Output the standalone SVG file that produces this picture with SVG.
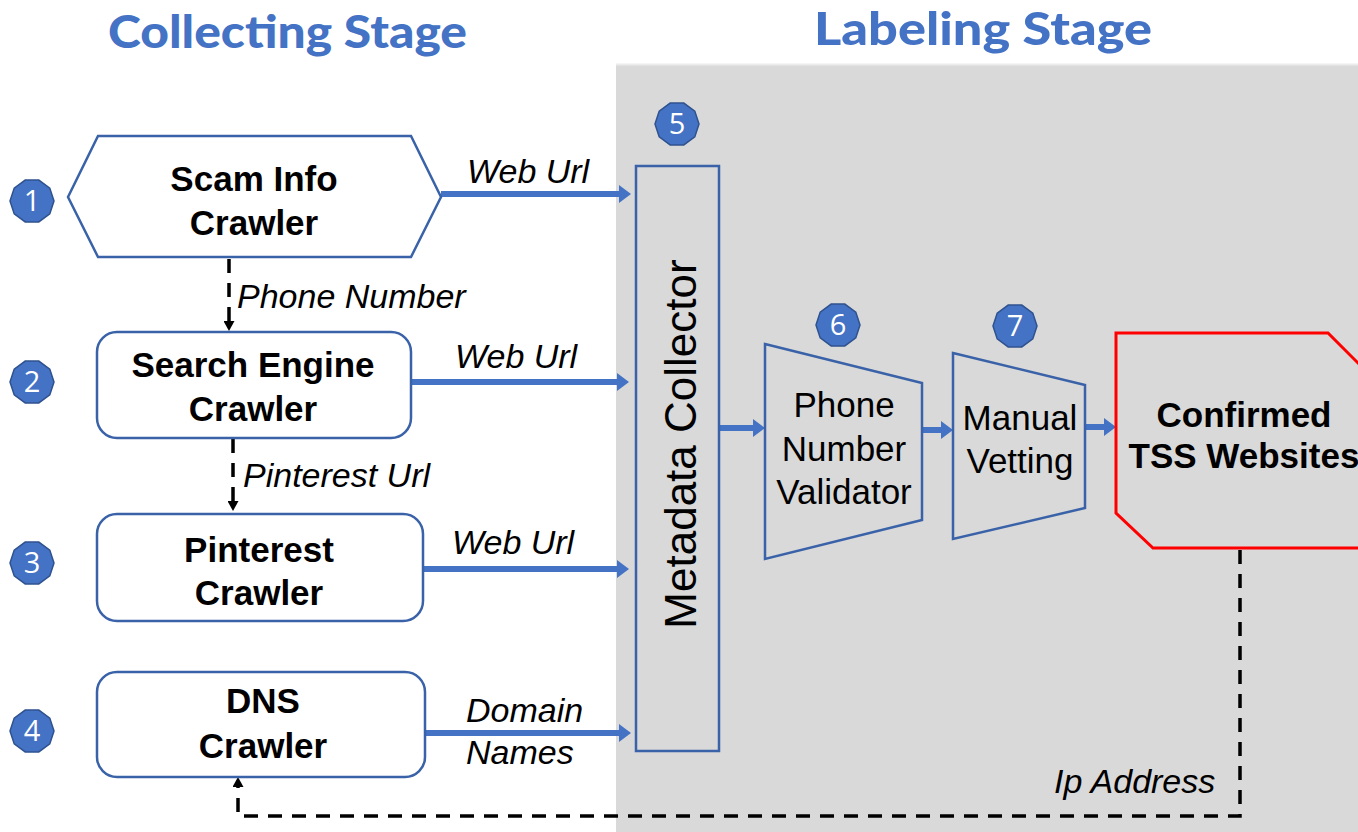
<svg xmlns="http://www.w3.org/2000/svg" xmlns:xlink="http://www.w3.org/1999/xlink" width="1358" height="832" viewBox="0 0 1358 832">
<style>
.head{font-family:Lato,"Liberation Sans",sans-serif;font-weight:900;font-size:45px;fill:#4472c4}
.node{fill:#ffffff;stroke:#3a62a8;stroke-width:2.5}
.lab{fill:#d9d9d9;stroke:#3a62a8;stroke-width:2.5}
.bt{font-family:"Liberation Sans",Arial,sans-serif;font-weight:bold;font-size:35px;fill:#000;text-anchor:middle}
.nt{font-family:"Liberation Sans",Arial,sans-serif;font-size:35px;fill:#000;text-anchor:middle}
.el{font-family:"Liberation Sans",Arial,sans-serif;font-style:italic;font-size:34px;fill:#000}
.badge{fill:#4472c4;stroke:#2f528f;stroke-width:1.5}
.bn{font-family:"Open Sans","Liberation Sans",sans-serif;font-size:29px;fill:#fff;text-anchor:middle}
.blue{stroke:#4472c4;stroke-width:6;fill:none;marker-end:url(#ba)}
.dash{stroke:#000;stroke-width:3.5;fill:none;stroke-dasharray:14 10;marker-end:url(#ka)}
</style>
<defs>
<marker id="ba" markerUnits="userSpaceOnUse" markerWidth="13" markerHeight="18" refX="0" refY="9" orient="auto">
<path d="M0,0 L12,9 L0,18 z" fill="#4472c4"/>
</marker>
<marker id="ka" markerUnits="userSpaceOnUse" markerWidth="11" markerHeight="11" refX="0" refY="5.5" orient="auto">
<path d="M0,0 L10,5.5 L0,11 z" fill="#000"/>
</marker>
<path id="dec" d="M22,0 L17.8,12.9 L6.8,20.9 L-6.8,20.9 L-17.8,12.9 L-22,0 L-17.8,-12.9 L-6.8,-20.9 L6.8,-20.9 L17.8,-12.9 Z"/>
</defs>

<rect x="0" y="0" width="1358" height="832" fill="#ffffff"/>
<rect id="labeling-area" x="616" y="65" width="742" height="767" fill="#d9d9d9"/>
<line x1="616" y1="64.5" x2="1358" y2="64.5" stroke="#ececec" stroke-width="2"/>

<text class="head" x="108" y="48" textLength="359" lengthAdjust="spacingAndGlyphs">Collecting Stage</text>
<text class="head" x="814" y="45" textLength="338" lengthAdjust="spacingAndGlyphs">Labeling Stage</text>

<g id="connectors">
<line class="blue" x1="441" y1="194" x2="619" y2="194"/>
<line class="blue" x1="411" y1="382" x2="617" y2="382"/>
<line class="blue" x1="423" y1="569" x2="617" y2="569"/>
<line class="blue" x1="425" y1="733" x2="619" y2="733"/>
<line class="blue" x1="720" y1="428" x2="753" y2="428"/>
<line class="blue" x1="923" y1="430" x2="941" y2="430"/>
<line class="blue" x1="1086" y1="427" x2="1104" y2="427"/>
<line class="dash" x1="229" y1="259" x2="229" y2="321"/>
<line class="dash" x1="233" y1="439" x2="233" y2="501"/>
<path class="dash" d="M1240,550 V816 H238 V787"/>
<text class="el" x="467" y="183">Web Url</text>
<text class="el" x="455" y="368">Web Url</text>
<text class="el" x="452" y="554">Web Url</text>
<text class="el" x="466" y="722">Domain</text>
<text class="el" x="466" y="764">Names</text>
<text class="el" x="237" y="308">Phone Number</text>
<text class="el" x="243" y="487">Pinterest Url</text>
<text class="el" x="1054" y="793">Ip Address</text>
</g>

<g id="n1">
<polygon class="node" points="68,197 98,136 411,136 441,197 411,257 98,257"/>
<text class="bt" x="254" y="191">Scam Info</text>
<text class="bt" x="254" y="235">Crawler</text>
</g>
<g id="n2">
<rect class="node" x="97" y="332" width="314" height="106" rx="20"/>
<text class="bt" x="253" y="377">Search Engine</text>
<text class="bt" x="253" y="421">Crawler</text>
</g>
<g id="n3">
<rect class="node" x="97" y="514" width="326" height="107" rx="20"/>
<text class="bt" x="259" y="562">Pinterest</text>
<text class="bt" x="259" y="605">Crawler</text>
</g>
<g id="n4">
<rect class="node" x="97" y="672" width="328" height="105" rx="20"/>
<text class="bt" x="263" y="713">DNS</text>
<text class="bt" x="263" y="758">Crawler</text>
</g>
<g id="n5">
<rect class="lab" x="636" y="166" width="83" height="585"/>
<text class="nt" transform="translate(696,444) rotate(-90)" style="font-size:44px">Metadata Collector</text>
</g>
<g id="n6">
<polygon class="lab" points="765,344 922,383 922,520 765,559"/>
<text class="nt" x="844" y="417">Phone</text>
<text class="nt" x="844" y="461">Number</text>
<text class="nt" x="844" y="504">Validator</text>
</g>
<g id="n7">
<polygon class="lab" points="953,353 1085,385 1085,508 953,539"/>
<text class="nt" x="1020" y="430">Manual</text>
<text class="nt" x="1020" y="473">Vetting</text>
</g>
<g id="n8">
<polygon fill="#d9d9d9" stroke="#ff0000" stroke-width="3" points="1116,333 1328,333 1375,380 1375,548 1153,548 1116,513"/>
<text class="bt" x="1244" y="427">Confirmed</text>
<text class="bt" x="1244" y="468">TSS Websites</text>
</g>

<g id="badges">
<g transform="translate(32,201)"><use xlink:href="#dec" class="badge"/><text class="bn" y="10">1</text></g>
<g transform="translate(32,382)"><use xlink:href="#dec" class="badge"/><text class="bn" y="10">2</text></g>
<g transform="translate(32,563)"><use xlink:href="#dec" class="badge"/><text class="bn" y="10">3</text></g>
<g transform="translate(32,731)"><use xlink:href="#dec" class="badge"/><text class="bn" y="10">4</text></g>
<g transform="translate(677,124)"><use xlink:href="#dec" class="badge"/><text class="bn" y="10">5</text></g>
<g transform="translate(838,325)"><use xlink:href="#dec" class="badge"/><text class="bn" y="10">6</text></g>
<g transform="translate(1015,326)"><use xlink:href="#dec" class="badge"/><text class="bn" y="10">7</text></g>
</g>
</svg>
